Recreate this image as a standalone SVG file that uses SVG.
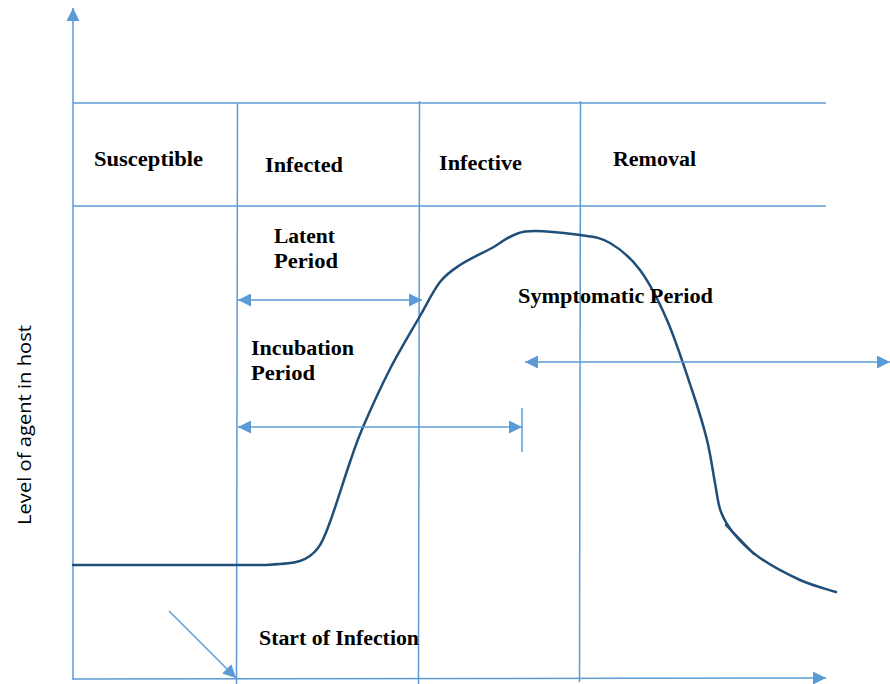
<svg xmlns="http://www.w3.org/2000/svg" width="890" height="684" viewBox="0 0 890 684">
<style>
.grid{stroke:#5B9BD5;stroke-width:1.5;fill:none}
.dim{stroke:#5B9BD5;stroke-width:1.5;fill:none}
.curve{stroke:#1F4E79;stroke-width:2.5;fill:none;stroke-linecap:round;stroke-linejoin:round}
.lbl{font-family:"Liberation Serif","DejaVu Serif",serif;font-weight:bold;font-size:20px;fill:#000}
.axis-lbl{font-family:"Open Sans","Liberation Sans",sans-serif;font-size:18px;fill:#000}
</style>
<defs>
<marker id="ah" markerUnits="userSpaceOnUse" markerWidth="13" markerHeight="13" refX="13" refY="6.5" orient="auto-start-reverse">
<path d="M0,0 L13,6.5 L0,13 z" fill="#5B9BD5"/>
</marker>
</defs>
<rect width="890" height="684" fill="#fff"/>
<g id="grid">
<line class="grid" x1="73" y1="103" x2="826" y2="103"/>
<line class="grid" x1="73" y1="206" x2="826" y2="206"/>
<line class="grid" x1="237.5" y1="103" x2="236.5" y2="686"/>
<line class="grid" x1="419.5" y1="101" x2="418.5" y2="686"/>
<line class="grid" x1="580.5" y1="101" x2="579.5" y2="682"/>
</g>
<g id="axes">
<line class="grid" x1="73" y1="680" x2="73" y2="8" marker-end="url(#ah)"/>
<line class="grid" x1="73" y1="679" x2="826" y2="678" marker-end="url(#ah)"/>
</g>
<g id="curve">
<path class="curve" d="M73,565 L265,565 C276.7,564.3 291.2,563.8 300,561 C308.8,558.2 313,554.5 318,548 C323,541.5 324.7,536.3 330,522 C335.3,507.7 344.5,477.8 350,462 C355.5,446.2 356.3,442.5 363,427 C369.7,411.5 380.5,387.5 390,369 C399.5,350.5 411.7,330.5 420,316 C428.3,301.5 433.3,290.5 440,282 C446.7,273.5 451.7,270.5 460,265 C468.3,259.5 479.2,254.6 490,249 C500.8,243.4 510,233.8 525,231.5 C540,229.2 565.8,233.1 580,235 C594.2,236.9 600,237.2 610,243 C620,248.8 630.5,257.2 640,270 C649.5,282.8 658.3,300 667,320 C675.7,340 685.3,370 692,390 C698.7,410 703.2,424.5 707,440 C710.8,455.5 712.7,471 715,483 C717.3,495 717.7,503.3 721,512 C724.3,520.7 728.5,527.3 735,535 C741.5,542.7 749.2,550.5 760,558 C770.8,565.5 787.3,574.3 800,580 C812.7,585.7 824.3,588.3 836,592"/>
<path class="curve" d="M726,525 L754,554"/>
</g>
<g id="connectors">
<line class="dim" x1="238" y1="300" x2="422" y2="300" marker-start="url(#ah)" marker-end="url(#ah)"/>
<line class="dim" x1="238" y1="427" x2="522" y2="427" marker-start="url(#ah)" marker-end="url(#ah)"/>
<line class="dim" x1="522" y1="408" x2="522" y2="452"/>
<line class="dim" x1="525" y1="362" x2="890" y2="362" marker-start="url(#ah)" marker-end="url(#ah)"/>
<line class="dim" x1="169" y1="611" x2="236" y2="678" marker-end="url(#ah)"/>
</g>
<g id="n-susceptible"><text class="lbl" x="94" y="166" textLength="109" lengthAdjust="spacingAndGlyphs">Susceptible</text></g>
<g id="n-infected"><text class="lbl" x="265" y="172" textLength="78" lengthAdjust="spacingAndGlyphs">Infected</text></g>
<g id="n-infective"><text class="lbl" x="439" y="170" textLength="83" lengthAdjust="spacingAndGlyphs">Infective</text></g>
<g id="n-removal"><text class="lbl" x="613" y="166" textLength="83" lengthAdjust="spacingAndGlyphs">Removal</text></g>
<g id="n-latent">
<text class="lbl" x="274" y="243" textLength="61" lengthAdjust="spacingAndGlyphs">Latent</text>
<text class="lbl" x="274" y="268" textLength="64" lengthAdjust="spacingAndGlyphs">Period</text>
</g>
<g id="n-incubation">
<text class="lbl" x="251" y="355" textLength="103" lengthAdjust="spacingAndGlyphs">Incubation</text>
<text class="lbl" x="251" y="380" textLength="64" lengthAdjust="spacingAndGlyphs">Period</text>
</g>
<g id="n-symptomatic"><text class="lbl" x="518" y="303" textLength="195" lengthAdjust="spacingAndGlyphs">Symptomatic Period</text></g>
<g id="n-start"><text class="lbl" x="259" y="645" textLength="160" lengthAdjust="spacingAndGlyphs">Start of Infection</text></g>
<g id="n-ylabel"><text class="axis-lbl" transform="translate(31,525) rotate(-90)" x="0" y="0" textLength="200" lengthAdjust="spacingAndGlyphs">Level of agent in host</text></g>
</svg>
